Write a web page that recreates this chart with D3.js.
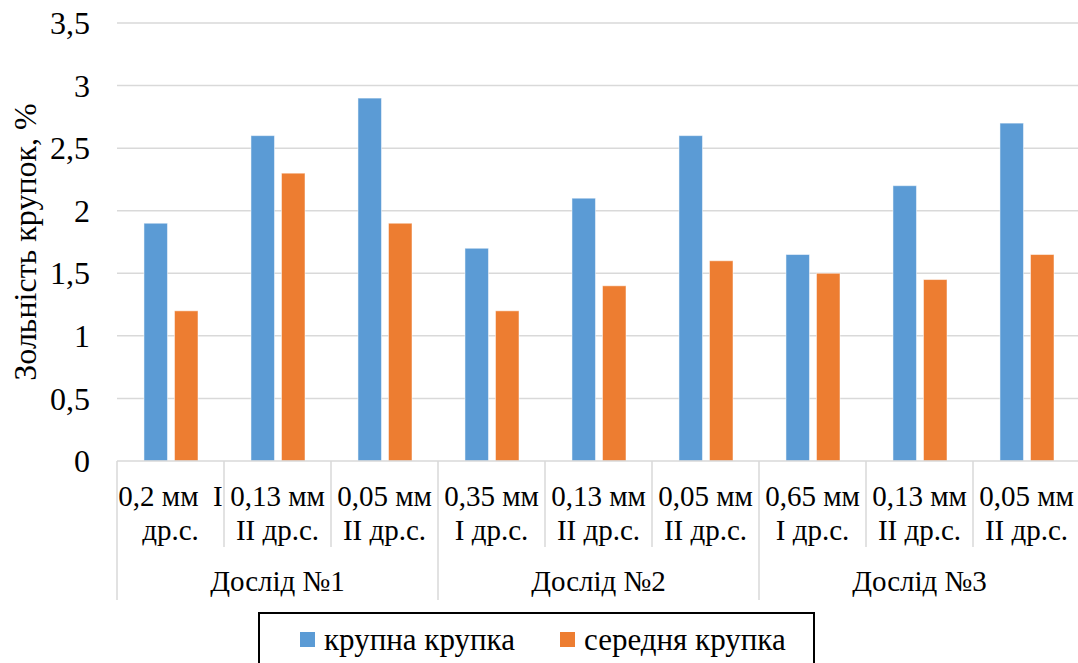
<!DOCTYPE html>
<html>
<head>
<meta charset="utf-8">
<script src="https://cdn.jsdelivr.net/npm/d3@7"></script>
</head>
<body style="margin:0">
<svg id="chart" width="1078" height="663" font-family="Liberation Serif"></svg>
<script>
// Category labels (two lines each), grouped by experiment
const categoryLines = [
  ["0,2 мм  I", "др.с."],
  ["0,13 мм", "II др.с."],
  ["0,05 мм", "II др.с."],
  ["0,35 мм", "I др.с."],
  ["0,13 мм", "II др.с."],
  ["0,05 мм", "II др.с."],
  ["0,65 мм", "I др.с."],
  ["0,13 мм", "II др.с."],
  ["0,05 мм", "II др.с."]
];
const groups = ["Дослід №1", "Дослід №2", "Дослід №3"];
const groupSize = 3;

const seriesNames = ["крупна крупка", "середня крупка"];
const coarse = [1.9, 2.6, 2.9, 1.7, 2.1, 2.6, 1.65, 2.2, 2.7];
const medium = [1.2, 2.3, 1.9, 1.2, 1.4, 1.6, 1.5, 1.45, 1.65];
const colors = ["#5b9bd5", "#ed7d31"];

const yTicks = [0, 0.5, 1, 1.5, 2, 2.5, 3, 3.5];
const yLabel = "Зольність крупок, %";

const FONT = "Liberation Serif";
const svg = d3.select("#chart");

const plotLeft = 117, plotRight = 1080, plotTop = 23, plotBottom = 461;

const idx = d3.range(categoryLines.length);
const x = d3.scaleBand().domain(idx).range([plotLeft, plotRight]).padding(0);
const bw = x.bandwidth();
const x1 = d3.scaleBand().domain([0, 1]).range([bw * 0.252, bw * 0.757]).paddingInner(0.23);
const y = d3.scaleLinear().domain([0, 3.5]).range([plotBottom, plotTop]);

const fmt = v => String(v).replace(".", ",");

// Horizontal gridlines
svg.append("g")
  .selectAll("line")
  .data(yTicks.filter(t => t > 0))
  .join("line")
  .attr("x1", plotLeft).attr("x2", plotRight)
  .attr("y1", d => y(d)).attr("y2", d => y(d))
  .attr("stroke", "#d9d9d9").attr("stroke-width", 1.5);

// Y tick labels
svg.append("g")
  .selectAll("text")
  .data(yTicks)
  .join("text")
  .attr("x", 90)
  .attr("y", d => y(d))
  .attr("dy", "0.35em")
  .attr("text-anchor", "end")
  .attr("font-family", FONT)
  .attr("font-size", 32)
  .text(fmt);

// Y axis title
svg.append("text")
  .attr("transform", `translate(36,${242}) rotate(-90)`)
  .attr("text-anchor", "middle")
  .attr("font-family", FONT)
  .attr("font-size", 32)
  .text(yLabel);

// Bars
const series = [coarse, medium];
series.forEach((vals, s) => {
  svg.append("g")
    .selectAll("rect")
    .data(vals)
    .join("rect")
    .attr("x", (d, i) => x(i) + x1(s))
    .attr("width", x1.bandwidth())
    .attr("y", d => y(d))
    .attr("height", d => y(0) - y(d))
    .attr("fill", colors[s])
    .attr("stroke", "#ffffff")
    .attr("stroke-opacity", 0.5)
    .attr("stroke-width", 1);
});

// Category axis line
svg.append("line")
  .attr("x1", plotLeft).attr("x2", plotRight)
  .attr("y1", plotBottom).attr("y2", plotBottom)
  .attr("stroke", "#d9d9d9").attr("stroke-width", 1.5);

// Category separators (short for items, long for group boundaries)
const sepG = svg.append("g");
d3.range(categoryLines.length + 1).forEach(i => {
  const xx = i < categoryLines.length ? x(i) : plotRight;
  const isGroup = i % groupSize === 0;
  sepG.append("line")
    .attr("x1", xx).attr("x2", xx)
    .attr("y1", plotBottom).attr("y2", isGroup ? 600 : 547)
    .attr("stroke", "#d9d9d9").attr("stroke-width", 1.5);
});

// Category labels
const catG = svg.append("g");
categoryLines.forEach((lines, i) => {
  const t = catG.append("text")
    .attr("text-anchor", "middle")
    .attr("xml:space", "preserve")
    .attr("font-family", FONT)
    .attr("font-size", 29);
  lines.forEach((ln, k) => {
    t.append("tspan")
      .attr("x", x(i) + bw / 2)
      .attr("y", 506 + k * 34)
      .text(ln);
  });
});

// Group labels
svg.append("g")
  .selectAll("text")
  .data(groups)
  .join("text")
  .attr("x", (d, g) => {
    const a = x(g * groupSize);
    const end = g * groupSize + groupSize;
    const b = end < categoryLines.length ? x(end) : plotRight;
    return (a + b) / 2;
  })
  .attr("y", 591)
  .attr("text-anchor", "middle")
  .attr("font-family", FONT)
  .attr("font-size", 29)
  .text(d => d);

// Legend
const legend = svg.append("g");
legend.append("rect")
  .attr("x", 259).attr("y", 613)
  .attr("width", 555).attr("height", 70)
  .attr("fill", "none").attr("stroke", "#000").attr("stroke-width", 2);
const legendX = [300, 560];
seriesNames.forEach((name, s) => {
  legend.append("rect")
    .attr("x", legendX[s]).attr("y", 632)
    .attr("width", 15).attr("height", 15)
    .attr("fill", colors[s]);
  legend.append("text")
    .attr("x", legendX[s] + 24).attr("y", 650)
    .attr("font-family", FONT)
    .attr("font-size", 31)
    .text(name);
});
</script>
</body>
</html>
